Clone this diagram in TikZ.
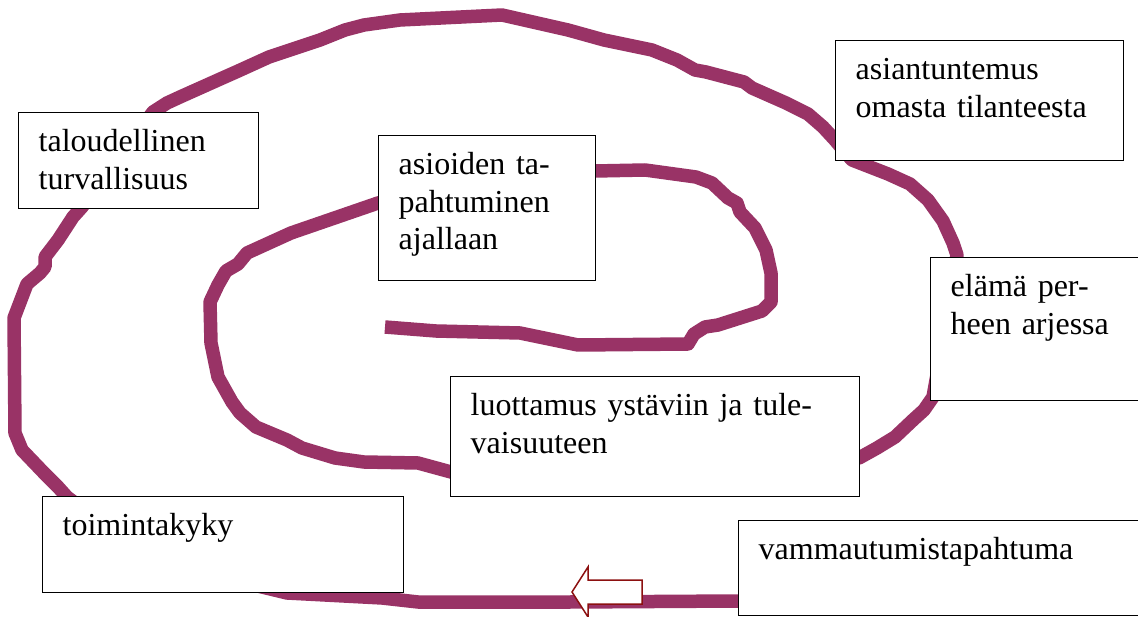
\documentclass[tikz,border=0pt]{standalone}
\usepackage{fontspec}
\setmainfont{Liberation Serif}
\usepackage{tikz}

\definecolor{plum}{RGB}{153,51,102}
\definecolor{darkred}{RGB}{140,16,16}

\begin{document}
\begin{tikzpicture}[x=1pt, y=-1pt,
  trail/.style={draw=plum, line width=13.5pt, line join=round, line cap=butt},
  box/.style={draw, fill=white, line width=1.4pt, anchor=north west, align=left,
    inner xsep=20pt, inner ysep=0pt, text height=39pt,
    font=\fontsize{32}{37.5}\selectfont}]
  \useasboundingbox (0,0) rectangle (1138,617);

  % the spiral, from the centre outwards
  \draw[trail] (385,327) -- (436,331) -- (520,333) -- (578,345) -- (688,344) -- (694,334)
    -- (705,327) -- (718,325) -- (740,318) -- (762,311) -- (771,302) -- (771,273)
    -- (766,250) -- (755,228) -- (740,212) -- (737,203) -- (728,198) -- (712,183)
    -- (696,177) -- (645,170) -- (595,171) -- (378,203) -- (291,233) -- (247,253)
    -- (238,264) -- (226,271) -- (218,285) -- (210,302) -- (211,343) -- (218,377)
    -- (232,402) -- (240,413) -- (256,427) -- (287,440) -- (302,448) -- (335,458)
    -- (364,462) -- (418,463) -- (451,472) -- (859,458) -- (877,448) -- (895,437)
    -- (913,420) -- (924,410) -- (933,397) -- (945,330) -- (957,255) -- (953,243)
    -- (943,221) -- (928,200) -- (910,184) -- (888,174) -- (870,167) -- (852,160)
    -- (845,152) -- (835,140) -- (823,127) -- (808,114) -- (786,103) -- (752,88)
    -- (744,82) -- (706,72) -- (695,70) -- (677,60) -- (652,50) -- (604,40)
    -- (568,30) -- (502,15) -- (400,20) -- (364,25) -- (345,30) -- (320,40)
    -- (269,57) -- (236,72) -- (218,80) -- (180,97) -- (167,103) -- (153,112)
    -- (82,207) -- (73,217) -- (58,240) -- (45,257) -- (45,267) -- (40,273)
    -- (27,284) -- (14,318) -- (15,433) -- (22,450) -- (44,473) -- (58,487)
    -- (67,497) -- (150,560) -- (287,593) -- (382,598) -- (418,602) -- (570,602)
    -- (738,601) -- (760,601);

  \node[box, text width=200pt, text depth=57pt] (talous) at (18,112)
    {taloudellinen\\turvallisuus};
  \node[box, text width=177pt, text depth=106pt] (ajallaan) at (378,135)
    {asioiden ta-\\pahtuminen\\ajallaan};
  \node[box, text width=248pt, text depth=81pt] (asiantuntemus) at (835,40)
    {asiantuntemus\\omasta tilanteesta};
  \node[box, text width=180pt, text depth=104pt] (arki) at (930,257)
    {elämä per-\\heen arjessa};
  \node[box, text width=369pt, text depth=81pt] (luottamus) at (450,376)
    {luottamus ystäviin ja tule-\\vaisuuteen};
  \node[box, text width=321pt, text depth=57pt] (toimintakyky) at (42,496)
    {toimintakyky};
  \node[box, text width=380pt, text depth=56pt] (vammautuminen) at (738,520)
    {vammautumistapahtuma};

  % direction of travel
  \draw[darkred, fill=white, line width=1.5pt, line join=miter]
    (572,592) -- (588,567) -- (588,580) -- (642,580) -- (642,604)
    -- (588,604) -- (588,617) -- cycle;
\end{tikzpicture}
\end{document}
